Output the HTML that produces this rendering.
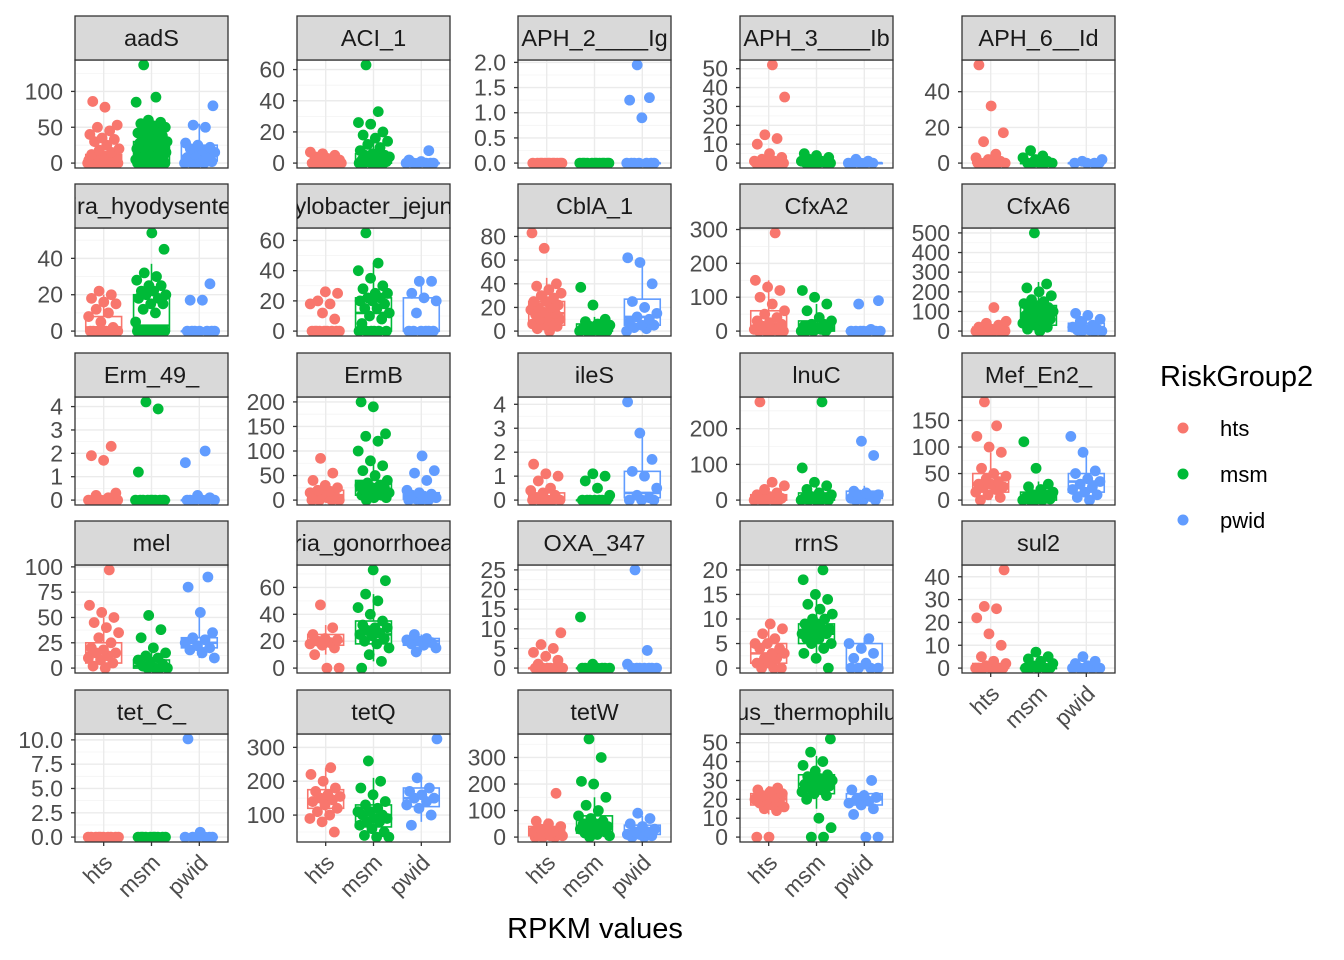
<!DOCTYPE html>
<html><head><meta charset="utf-8"><style>
body{margin:0;background:#fff;}
svg{display:block;font-family:"Liberation Sans",sans-serif;}
</style></head><body>
<svg id="chart" width="1344" height="960" xmlns="http://www.w3.org/2000/svg"></svg>
<script>
const groups = ["hts","msm","pwid"];
const colors = ["#F8766D","#00BA38","#619CFF"];
const facetNames = ["aadS","ACI_1","APH_2____Ig","APH_3____Ib","APH_6__Id","ira_hyodysente","ylobacter_jejun","CblA_1","CfxA2","CfxA6","Erm_49_","ErmB","ileS","lnuC","Mef_En2_","mel","ria_gonorrhoea","OXA_347","rrnS","sul2","tet_C_","tetQ","tetW","us_thermophilu"];
const facetTicks = [[0,50,100],[0,20,40,60],[0,0.5,1,1.5,2],[0,10,20,30,40,50],[0,20,40],
[0,20,40],[0,20,40,60],[0,20,40,60,80],[0,100,200,300],[0,100,200,300,400,500],
[0,1,2,3,4],[0,50,100,150,200],[0,1,2,3,4],[0,100,200],[0,50,100,150],
[0,25,50,75,100],[0,20,40,60],[0,5,10,15,20,25],[0,5,10,15,20],[0,10,20,30,40],
[0,2.5,5,7.5,10],[100,200,300],[0,100,200,300],[0,10,20,30,40,50]];
const tickDecimals = [0,0,1,0,0, 0,0,0,0,0, 0,0,0,0,0, 0,0,0,0,0, 1,0,0,0];
const htsValues = [
[0,0,0,0,0,0,0,0,0,0,1,2,3,4,5,6,8,10,12,15,18,20,25,30,33,35,40,45,50,53,78,86],
[0,0,0,0,0,0,0,0,1,2,3,4,5,6,7],[0,0,0,0,0,0,0,0,0,0,0,0],[0,0,0,0,0,0,0,0,1,1,2,3,5,10,13,15,35,52],[0,0,0,0,0,0,0,1,2,3,5,12,17,32,55],
[0,0,0,0,0,0,0,0,2,5,8,10,12,15,16,18,20,22],[0,0,0,0,0,0,0,0,0,8,12,18,18,20,25,26],[0,2,4,5,6,8,10,10,12,14,15,16,18,20,20,22,25,25,28,30,32,35,38,40,70,83],[0,0,0,0,0,5,10,15,20,25,30,40,50,60,80,100,120,130,150,290],[0,0,0,0,0,0,0,5,5,10,10,20,30,40,50,120],
[0,0,0,0,0,0,0,0,0.1,0.2,0.3,1.7,1.9,2.3],[0,0,0,0,5,8,10,12,15,18,20,25,30,40,55,85],[0,0,0,0,0,0,0.1,0.2,0.3,0.4,0.5,0.8,1.0,1.1,1.5],[0,0,0,0,0,5,10,15,20,30,40,50,275],[0,5,10,15,20,25,25,30,30,35,40,45,50,60,90,100,120,140,185],
[0,2,5,8,10,12,15,15,18,20,25,30,35,40,45,50,55,62,97],[0,0,10,15,17,18,19,20,21,22,25,30,47],[0,0,0,0,0,0,0,0,1,2,3,4,5,6,9],[0,0,0,1,1,2,2,3,3,4,4,5,5,6,7,8,9],[0,0,0,0,0,0,0,1,2,3,5,10,15,22,26,27,43],
[0,0,0,0,0,0,0,0,0,0],[50,80,90,100,110,120,130,140,145,150,155,160,170,180,200,220,240],[0,0,0,5,5,10,10,15,20,20,30,40,50,60,165],[0,0,14,15,16,17,18,19,20,20,21,22,23,24,25,26]];
const msmValues = [
[0,0,0,0,0,0,0,0,1,2,3,5,5,8,8,10,10,12,12,15,15,18,18,20,20,22,22,25,25,28,28,30,30,33,35,38,40,42,45,48,50,52,55,57,60,85,92,137],
[0,0,0,0,0,0,1,1,2,2,3,3,4,4,5,5,6,8,10,12,14,16,18,20,25,26,33,63],[0,0,0,0,0,0,0,0,0,0,0,0],[0,0,0,0,0,0,1,1,2,3,4,5],[0,0,0,0,0,1,2,3,4,7],
[0,0,0,0,0,0,0,0,5,10,12,15,15,18,18,20,20,22,22,25,25,28,30,32,45,54],[0,0,0,0,0,0,5,8,10,12,15,15,18,20,20,22,22,25,25,28,30,35,40,45,65],[0,0,0,0,0,0,1,2,3,4,5,6,8,10,22,37],[0,0,0,0,5,5,10,10,15,20,20,30,40,60,80,100,120],[0,10,20,30,40,50,60,60,70,80,80,90,100,100,110,120,130,140,150,160,180,200,220,240,500],
[0,0,0,0,0,0,0,0,0,0,1.2,3.9,4.2],[0,5,5,10,10,15,15,20,20,25,25,30,30,35,40,50,60,70,80,100,120,130,135,190,200],[0,0,0,0,0,0,0,0.2,0.5,0.8,1.0,1.1],[0,0,0,0,0,5,5,10,15,20,30,40,50,90,275],[0,0,0,0,2,5,5,10,10,15,20,25,30,60,110],
[0,0,0,0,2,4,6,8,10,12,15,20,30,38,52],[0,5,10,15,18,20,22,24,25,26,28,30,30,32,35,40,45,50,55,65,73],[0,0,0,0,0,0,0,0,1,13],[0,2,3,4,5,5,6,6,7,7,7,8,8,8,9,9,10,10,11,12,13,14,15,18,20],[0,0,0,0,0,1,2,3,4,5,7],
[0,0,0,0,0,0,0,0,0,0],[35,35,40,50,60,70,80,80,90,90,100,100,110,110,120,130,140,160,180,200,260],[0,5,10,15,20,25,30,30,40,40,50,50,60,70,80,100,120,150,200,210,300,370],[0,0,5,10,20,22,23,24,25,26,27,28,28,29,30,30,31,32,33,35,38,40,45,52]];
const pwidValues = [
[0,0,0,0,2,5,8,10,12,15,18,20,22,25,28,50,53,80],
[0,0,0,0,0,0,1,2,8],[0,0,0,0,0,0,0,0.9,1.25,1.3,1.95],[0,0,0,0,0,1,2],[0,0,0,0,1,2],
[0,0,0,0,0,0,0,17,17,26],[0,0,0,0,0,0,12,20,22,25,33,33],[0,2,3,5,5,8,10,12,15,20,25,40,58,62],[0,0,0,0,0,0,0,5,80,90],[0,0,0,5,5,10,10,20,30,50,60,80,90],
[0,0,0,0,0,0,0.1,0.2,1.6,2.1],[0,0,0,2,5,8,10,12,15,20,40,55,60,90],[0,0,0,0.1,0.2,0.5,1.0,1.2,1.7,2.8,4.1],[0,0,0,5,10,15,15,20,25,125,165],[0,5,10,15,20,25,30,35,40,50,55,90,120],
[10,15,18,20,22,25,28,30,35,55,80,90],[12,15,17,18,19,20,21,22,25],[0,0,0,0,0,0,0,1,4.5,25],[0,0,0,0,1,2,3,4,5,6],[0,0,0,0,0,1,2,3,5],
[0,0,0,0,0,0,0.5,10.1],[70,100,120,130,140,150,150,160,170,180,210,325],[0,0,5,10,10,20,20,30,40,50,70,90],[0,0,12,15,17,18,19,20,21,22,25,30]];
// boxes: [lower whisker, q1, median, q3, upper whisker]
const htsBoxes = [[0,0,2,12,25],[0,0,0,1,3],[0,0,0,0,0],[0,0,0,1,2],[0,0,0,1,2],
[0,0,2,8,20],[0,0,0,0,0],[0,5,15,25,45],[0,0,10,60,150],[0,0,0,20,50],
[0,0,0,0,0],[0,2,10,20,40],[0,0,0.1,0.3,0.6],[0,0,2,15,40],[0,15,30,50,90],
[0,5,15,25,50],[10,17,20,25,32],[0,0,0,0,0],[0,1,3,5,9],[0,0,0,2,5],
[0,0,0,0,0],[80,120,145,175,240],[0,5,15,40,70],[12,17,20,23,27]];
const msmBoxes = [[0,0,15,30,60],[0,0,2,6,15],[0,0,0,0,0],[0,0,0,0,1],[0,0,0,0,1],
[0,0,3,20,37],[0,0,12,22,45],[0,0,2,6,12],[0,0,5,30,80],[0,30,80,130,250],
[0,0,0,0,0],[0,10,20,40,80],[0,0,0,0,0],[0,0,5,20,40],[0,0,5,15,35],
[0,0,2,8,20],[5,18,25,35,55],[0,0,0,0,0],[2,5,7,9,14],[0,0,0,0,1],
[0,0,0,0,0],[35,65,100,130,210],[0,15,40,80,150],[15,23,28,33,43]];
const pwidBoxes = [[0,3,10,25,55],[0,0,0,0,0],[0,0,0,0,0],[0,0,0,0,1],[0,0,0,0,1],
[0,0,0,0,0],[0,0,0,22,30],[0,5,12,27,58],[0,0,0,0,0],[0,0,10,40,90],
[0,0,0,0,0],[0,2,8,15,25],[0,0.1,0.3,1.2,2.8],[0,5,10,25,40],[0,15,35,50,90],
[10,20,25,30,55],[12,17,20,22,25],[0,0,0,0,0],[0,0,0,5,6],[0,0,0,0,1],
[0,0,0,0,0],[80,125,150,180,210],[0,10,25,45,80],[15,17,20,23,25]];

const NS="http://www.w3.org/2000/svg";
const svg=document.getElementById('chart');
function mk(tag,attrs,parent){const e=document.createElementNS(NS,tag);for(const k in attrs)e.setAttribute(k,attrs[k]);(parent||svg).appendChild(e);return e;}
const colX=[75,297,518,740,962], rowTop=[16,184,353,521,690], PW=153, SH=44, PH=108;
const allVals=[htsValues,msmValues,pwidValues], allBoxes=[htsBoxes,msmBoxes,pwidBoxes];
const defs=mk('defs',{});
facetNames.forEach((name,f)=>{
  const c=f%5, r=Math.floor(f/5);
  const x0=colX[c], st=rowTop[r], y0=st+SH, y1=y0+PH;
  const g=mk('g',{});
  
  
  let vs=[].concat(htsValues[f],msmValues[f],pwidValues[f]);
  let dmin=Math.min(...vs), dmax=Math.max(...vs);
  const pad=(dmax-dmin)*0.05; const lo=dmin-pad, hi=dmax+pad;
  const ys=v=>y1-(v-lo)/(hi-lo)*PH;
  const xs=i=>x0+(i+1-0.4)/3.2*PW;
  mk('rect',{x:x0,y:y0,width:PW,height:PH,fill:'#fff'},g);
  const t=facetTicks[f], step=t[1]-t[0];
  for(let k=-1;k<t.length;k++){const v=t[0]+step*(k+0.5);if(v>lo&&v<hi)mk('line',{x1:x0,x2:x0+PW,y1:ys(v),y2:ys(v),stroke:'#F4F4F4','stroke-width':0.8},g);}
  t.forEach(v=>{if(v>=lo&&v<=hi)mk('line',{x1:x0,x2:x0+PW,y1:ys(v),y2:ys(v),stroke:'#EBEBEB','stroke-width':1.4},g);});
  for(let i=0;i<3;i++)mk('line',{x1:xs(i),x2:xs(i),y1:y0,y2:y1,stroke:'#EBEBEB','stroke-width':1.4},g);
  const cp=mk('clipPath',{id:'cp'+f},defs);mk('rect',{x:x0,y:y0,width:PW,height:PH},cp);
  const pg=mk('g',{'clip-path':'url(#cp'+f+')'},g);
  for(let i=0;i<3;i++){
    const b=allBoxes[i][f], cx=xs(i), bw=PW/3.2*0.75;
    const bg=mk('g',{},pg);
    
    
    mk('line',{x1:cx,x2:cx,y1:ys(b[0]),y2:ys(b[4]),stroke:colors[i],'stroke-width':1.6},bg);
    mk('rect',{x:cx-bw/2,y:ys(b[3]),width:bw,height:Math.max(0.5,ys(b[1])-ys(b[3])),fill:'#fff',stroke:colors[i],'stroke-width':1.6},bg);
    mk('line',{x1:cx-bw/2,x2:cx+bw/2,y1:ys(b[2]),y2:ys(b[2]),stroke:colors[i],'stroke-width':2.6},bg);
    allVals[i][f].forEach((v,k)=>{
      const jx=(((k*0.618+f*0.37+i*0.21)%1)-0.5)*2*16;
      const p=mk('circle',{cx:cx+jx,cy:ys(v),r:5.4,fill:colors[i]},pg);
      
      
    });
  }
  mk('rect',{x:x0,y:y0,width:PW,height:PH,fill:'none',stroke:'#333','stroke-width':1.3},g);
  mk('rect',{x:x0,y:st,width:PW,height:SH,fill:'#D9D9D9',stroke:'#333','stroke-width':1.3},g);
  const sc=mk('clipPath',{id:'sc'+f},defs);mk('rect',{x:x0,y:st,width:PW,height:SH},sc);
  const stx=mk('text',{x:x0+PW/2,y:st+30,'text-anchor':'middle','font-size':23.5,fill:'#1A1A1A','clip-path':'url(#sc'+f+')'},g);
  stx.textContent=name;
  
  
  t.forEach(v=>{if(v<lo||v>hi)return;const y=ys(v);
    mk('line',{x1:x0-4,x2:x0,y1:y,y2:y,stroke:'#333','stroke-width':1.3},g);
    const tx=mk('text',{x:x0-12,y:y+8,'text-anchor':'end','font-size':23,fill:'#4D4D4D'},g);
    tx.textContent=v.toFixed(tickDecimals[f]);
    
    
  });
  if(r===4||f===19){
    for(let i=0;i<3;i++){const cx=xs(i);
      mk('line',{x1:cx,x2:cx,y1:y1,y2:y1+4,stroke:'#333','stroke-width':1.3},g);
      const ax=cx+10, ay=y1+22;
      const tx=mk('text',{x:ax,y:ay,'text-anchor':'end','font-size':22.5,fill:'#4D4D4D',transform:'rotate(-45 '+ax+' '+ay+')'},g);
      tx.textContent=groups[i];
      
      
    }
  }
});
const xt=mk('text',{x:595,y:938,'text-anchor':'middle','font-size':29,fill:'#000'});
xt.textContent='RPKM values';


const lg=mk('g',{});


const lt=mk('text',{x:1160,y:386,'font-size':29,fill:'#000'},lg);lt.textContent='RiskGroup2';
groups.forEach((gname,i)=>{
  const e=mk('g',{},lg);
  
  
  mk('circle',{cx:1183,cy:428+46*i,r:5.5,fill:colors[i]},e);
  const tx=mk('text',{x:1220,y:436+46*i,'font-size':22,fill:'#000'},e);tx.textContent=gname;
});
</script>
</body></html>
